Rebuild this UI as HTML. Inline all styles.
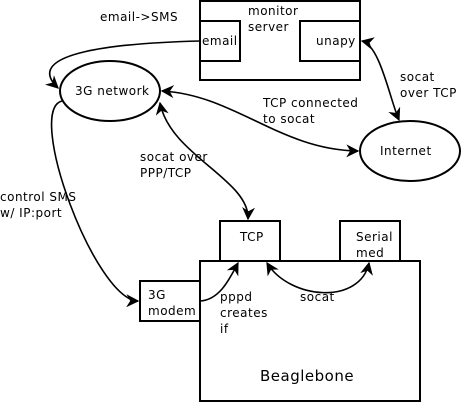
<!DOCTYPE html>
<html><head><style>
body{margin:0;background:#fff;}
svg{display:block;font-family:"DejaVu Sans","Liberation Sans",sans-serif;}
text{font-size:12px;letter-spacing:0.5px;fill:#000;}
</style></head><body>
<svg width="461" height="402" viewBox="0 0 461 402">
<defs>
<marker id="a" viewBox="0 0 10 10" refX="9" refY="5" markerWidth="13" markerHeight="13" orient="auto-start-reverse" markerUnits="userSpaceOnUse">
<path d="M0,0 L10,5 L0,10 L3,5 Z" fill="#000"/>
</marker>
</defs>
<g fill="none" stroke="#000" stroke-width="2">
<rect x="200" y="1" width="160" height="79"/>
<rect x="200" y="21" width="40" height="40"/>
<rect x="300" y="21" width="60" height="40"/>
<ellipse cx="110" cy="91" rx="50" ry="30"/>
<ellipse cx="410" cy="151" rx="50" ry="30"/>
<rect x="220" y="221" width="60" height="40"/>
<rect x="340" y="221" width="60" height="40"/>
<rect x="200" y="261" width="220" height="140"/>
<rect x="140" y="281" width="60" height="40"/>
</g>
<g fill="none" stroke="#000" stroke-width="1.6">
<path d="M200,41 C120,43 20,52 58,88" marker-end="url(#a)"/>
<path d="M62,101 C25,110 95,300 138,301" marker-end="url(#a)"/>
<path d="M162,91 C235,95 280,150 358,151" marker-start="url(#a)" marker-end="url(#a)"/>
<path d="M160,103 C170,155 250,180 248,219" marker-start="url(#a)" marker-end="url(#a)"/>
<path d="M362,41 C380,45 390,100 399,120" marker-start="url(#a)" marker-end="url(#a)"/>
<path d="M200,301 C220,300 230,278 238,263" marker-end="url(#a)"/>
<path d="M267,263 C290,300 360,305 369,263" marker-start="url(#a)" marker-end="url(#a)"/>
</g>
<text x="100" y="21">email-&gt;SMS</text>
<text x="248" y="15">monitor</text>
<text x="248" y="31">server</text>
<text x="202" y="45">email</text>
<text x="316" y="45">unapy</text>
<text x="75" y="95">3G network</text>
<text x="380" y="155">Internet</text>
<text x="263" y="107">TCP connected</text>
<text x="263" y="123">to socat</text>
<text x="400" y="81">socat</text>
<text x="400" y="97">over TCP</text>
<text x="140" y="161">socat over</text>
<text x="140" y="177">PPP/TCP</text>
<text x="0" y="201">control SMS</text>
<text x="0" y="217">w/ IP:port</text>
<text x="240" y="241">TCP</text>
<text x="356" y="241">Serial</text>
<text x="356" y="257">med</text>
<text x="148" y="299">3G</text>
<text x="148" y="315">modem</text>
<text x="220" y="301">pppd</text>
<text x="220" y="317">creates</text>
<text x="220" y="333">if</text>
<text x="300" y="301">socat</text>
<text x="260" y="381" style="font-size:15px">Beaglebone</text>
</svg>
</body></html>
